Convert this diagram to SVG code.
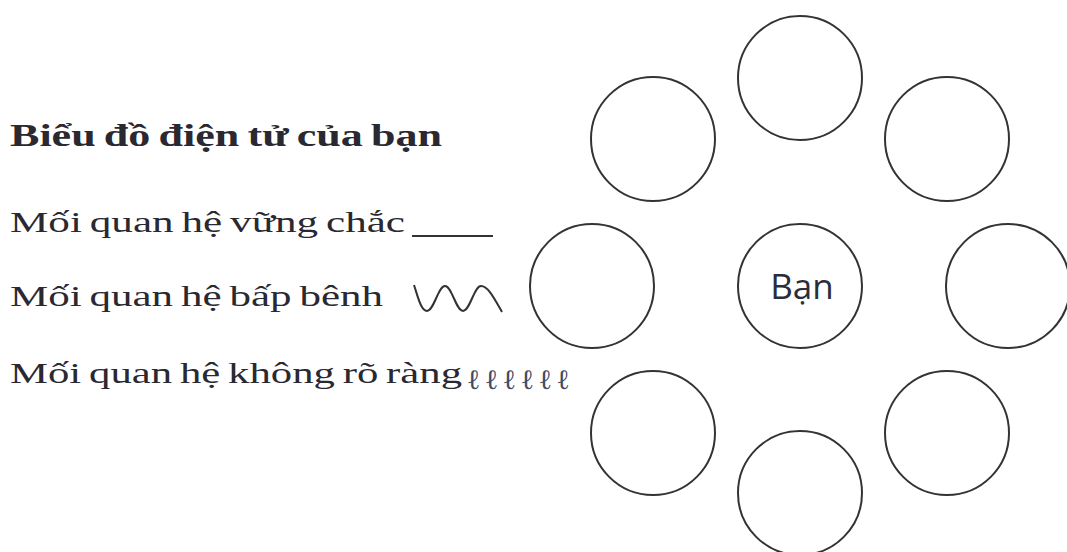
<svg xmlns="http://www.w3.org/2000/svg" width="1067" height="552" viewBox="0 0 1067 552">
<style>
.t{font-family:"Liberation Serif","DejaVu Serif",serif;fill:#2a2830;font-size:30px;word-spacing:-2px}
.h{font-weight:bold;font-size:31px}
.c{fill:#fff;stroke:#333;stroke-width:2}
.b{font-family:"Open Sans","Noto Sans",sans-serif;font-size:35px;fill:#2a2d3a}
.l{fill:none;stroke:#333;stroke-width:2}
.e{font-family:"Liberation Serif","DejaVu Serif",serif;font-size:28px;fill:#3f4a66}
</style>
<rect width="1067" height="552" fill="#fff"/>
<g id="legend">
<text class="t h" x="10" y="146" textLength="432" lengthAdjust="spacingAndGlyphs">Biểu đồ điện tử của bạn</text>
<text class="t" x="10" y="232" textLength="395" lengthAdjust="spacingAndGlyphs">Mối quan hệ vững chắc</text>
<line class="l" x1="412" y1="236" x2="493" y2="236"/>
<text class="t" x="10" y="306" textLength="373" lengthAdjust="spacingAndGlyphs">Mối quan hệ bấp bênh</text>
<path class="l" d="M414 285 C418 297 421 311 427 311 C434 311 438 286 445 286 C452 286 456 311 463 311 C470 311 474 286 481 286 C488 286 494 298 502 312"/>
<text class="t" x="10" y="383" textLength="452" lengthAdjust="spacingAndGlyphs">Mối quan hệ không rõ ràng</text>
<text class="e" x="467" y="389" textLength="103" lengthAdjust="spacing">ℓℓℓℓℓℓ</text>
</g>
<g id="center"><circle class="c" cx="800" cy="286" r="62"/><text class="b" x="802" y="299" text-anchor="middle">Bạn</text></g>
<g id="n-top"><circle class="c" cx="800" cy="78" r="62"/></g>
<g id="n-top-right"><circle class="c" cx="947" cy="139" r="62"/></g>
<g id="n-right"><circle class="c" cx="1008" cy="286" r="62"/></g>
<g id="n-bottom-right"><circle class="c" cx="947" cy="433" r="62"/></g>
<g id="n-bottom"><circle class="c" cx="800" cy="493" r="62"/></g>
<g id="n-bottom-left"><circle class="c" cx="653" cy="433" r="62"/></g>
<g id="n-left"><circle class="c" cx="592" cy="286" r="62"/></g>
<g id="n-top-left"><circle class="c" cx="653" cy="139" r="62"/></g>
<g id="connectors"></g>
</svg>
